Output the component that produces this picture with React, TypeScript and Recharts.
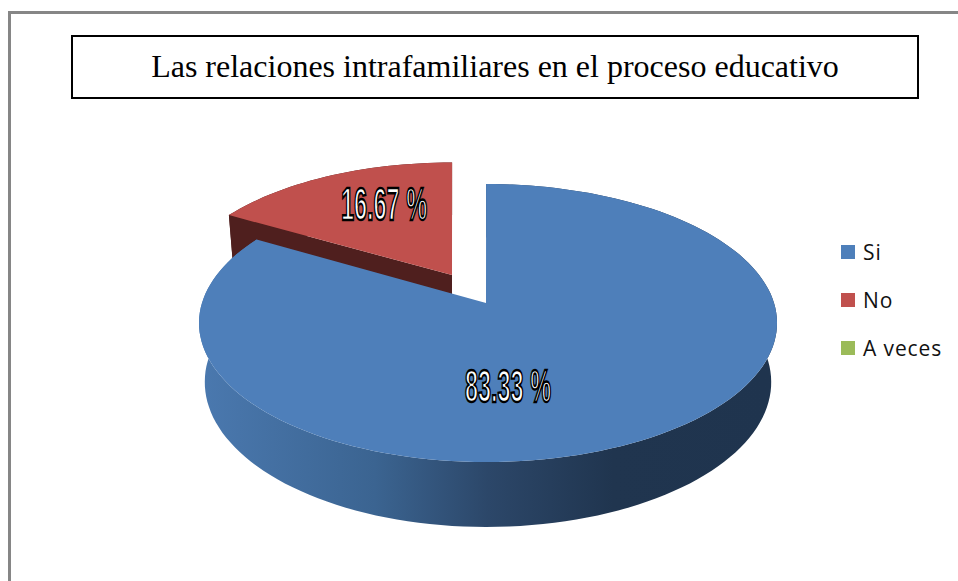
import { PieChart, Pie, Legend } from "recharts";

const categories = ["Si", "No", "A veces"];
const values = [83.33, 16.67, 0];
const colors = ["#4E7FBA", "#C0504D", "#9BBB59"];
const sideColors = ["url(#blueSide)", "#4F1F1E", "#4F6030"];
const explodedBy = [0, 0.245, 0];
const labelOffsets = [[22, 83], [-102, -99], [0, 0]];

// drawn back to front: the red slice has to sit under the blue one
const pieData = categories
  .map((name, i) => ({ name, value: values[i], fill: colors[i], side: sideColors[i], explode: explodedBy[i] }))
  .reverse();

// perspective of the tilted disc, fitted on the picture (radius = 1 in the plane)
const K = 0.144;
const TILT = 136.1 / 286;
const BOTTOM_SCALE = 0.98;
const DEPTH = 58.3;

function project(cx: number, cy: number, r: number, ox: number, oy: number, X: number, Y: number, low = false) {
  const d = 1 + K * (Y + oy);
  const s = low ? BOTTOM_SCALE : 1;
  // the reference disc is a little wider on its right side
  const skew = X > 0 ? 1.007 : 0.993;
  const shift = (r * ox) / (1 + K * oy);
  return [cx + shift + (r * s * X * skew) / d, cy + (-r * TILT * s * (Y + oy) + (low ? DEPTH : 0)) / d];
}

function toPath(pts: number[][]) {
  return "M" + pts.map((p) => p[0].toFixed(1) + " " + p[1].toFixed(1)).join("L") + "Z";
}

function Slice3D(props: any) {
  const { cx, cy, outerRadius: r, startAngle, endAngle, fill, side, explode } = props;
  if (Math.abs(endAngle - startAngle) < 0.01) return null;
  const rad = ((startAngle + endAngle) / 2) * (Math.PI / 180);
  const ox = Math.cos(rad) * explode;
  const oy = Math.sin(rad) * explode;
  const arcTop: number[][] = [];
  const arcLow: number[][] = [];
  const steps = Math.ceil(Math.abs(endAngle - startAngle) / 2);
  for (let i = 0; i <= steps; i++) {
    const a = (startAngle + ((endAngle - startAngle) * i) / steps) * (Math.PI / 180);
    arcTop.push(project(cx, cy, r, ox, oy, Math.cos(a), Math.sin(a)));
    arcLow.push(project(cx, cy, r, ox, oy, Math.cos(a), Math.sin(a), true));
  }
  const hubTop = project(cx, cy, r, ox, oy, 0, 0);
  const hubLow = project(cx, cy, r, ox, oy, 0, 0, true);
  return (
    <g>
      <path d={toPath([...arcTop, ...[...arcLow].reverse()])} fill={side} />
      <path d={toPath([hubTop, arcTop[0], arcLow[0], hubLow])} fill={side} />
      <path d={toPath([hubTop, ...arcTop])} fill={fill} />
    </g>
  );
}

function SliceLabel(props: any) {
  const { cx, cy, value, name } = props;
  if (!value) return null;
  const off = labelOffsets[categories.indexOf(name)];
  return (
    <text
      x={cx + off[0]}
      y={cy + off[1]}
      dominantBaseline="central"
      textAnchor="middle"
      fontFamily="Liberation Sans"
      fontWeight="bold"
      fontSize={46}
      textLength={86}
      lengthAdjust="spacingAndGlyphs"
      fill="#fff"
      stroke="#000"
      strokeWidth={2.4}
    >
      {`${value.toFixed(2)} %`}
    </text>
  );
}

function LegendList() {
  return (
    <div>
      {categories.map((c, i) => (
        <div key={c} style={{ display: "flex", alignItems: "center", height: 48, fontFamily: "Open Sans", fontSize: 21, letterSpacing: 0.9, color: "#111" }}>
          <span style={{ width: 14, height: 14, background: colors[i], marginRight: 8 }} />
          {c}
        </div>
      ))}
    </div>
  );
}

export default function App() {
  return (
    <div style={{ position: "absolute", left: 0, top: 0, width: 958, height: 581, background: "#fff", overflow: "hidden" }}>
      <div style={{ position: "absolute", left: 8, top: 11, width: 950, height: 570, borderTop: "3px solid #868686", borderLeft: "3px solid #868686", boxSizing: "border-box" }} />
      <div
        style={{
          position: "absolute", left: 71, top: 35, width: 848, height: 64, boxSizing: "border-box", paddingBottom: 2,
          border: "2px solid #000", display: "flex", alignItems: "center", justifyContent: "center",
          fontFamily: "Liberation Serif", fontSize: 32, color: "#000",
        }}
      >
        Las relaciones intrafamiliares en el proceso educativo
      </div>
      <div style={{ position: "absolute", left: 0, top: 0 }}>
        <PieChart width={958} height={581} margin={{ top: 0, right: 0, bottom: 0, left: 0 }}>
          <defs>
            <linearGradient id="blueSide" gradientUnits="userSpaceOnUse" x1="205" y1="0" x2="771" y2="0">
              <stop offset="0%" stopColor="#4A78AE" />
              <stop offset="30%" stopColor="#3B6491" />
              <stop offset="50%" stopColor="#2C4769" />
              <stop offset="72%" stopColor="#20354F" />
              <stop offset="100%" stopColor="#1F344E" />
            </linearGradient>
          </defs>
          <Pie
            data={pieData}
            dataKey="value"
            nameKey="name"
            cx={486}
            cy={303}
            outerRadius={286}
            startAngle={150}
            endAngle={-210}
            stroke="none"
            shape={Slice3D}
            label={SliceLabel}
            labelLine={false}
            isAnimationActive={false}
          />
          <Legend
            layout="vertical"
            content={<LegendList />}
            wrapperStyle={{ position: "absolute", left: 841, top: 228, width: 117, right: "auto", bottom: "auto" }}
          />
        </PieChart>
      </div>
    </div>
  );
}
